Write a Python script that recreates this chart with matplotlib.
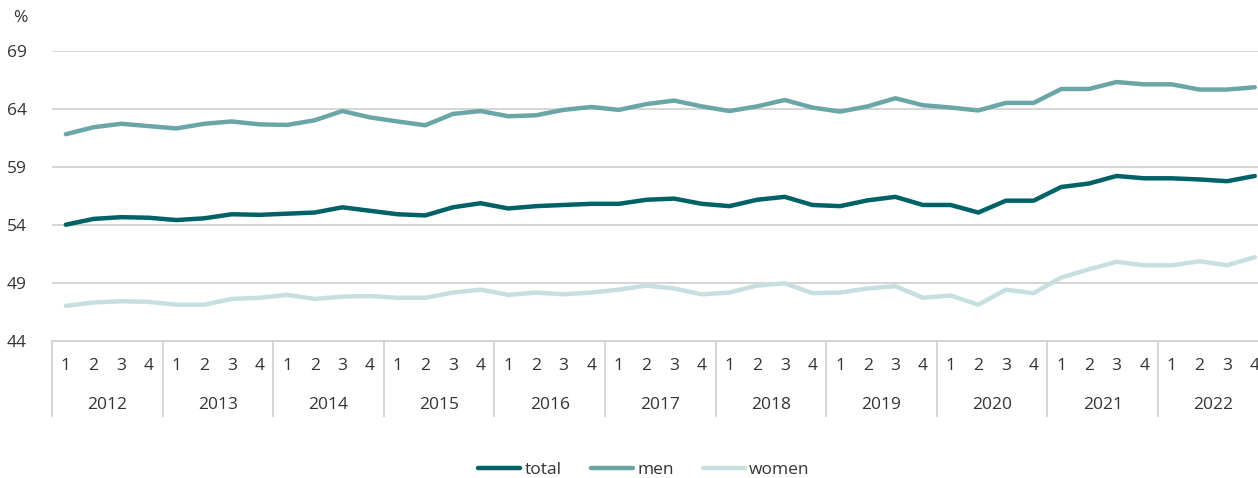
import matplotlib
matplotlib.use('Agg')
import matplotlib.pyplot as plt

# quarterly values 2012 Q1 .. 2022 Q4, in %
total = [54.0, 54.5, 54.65, 54.6, 54.4, 54.55, 54.9, 54.85, 54.95, 55.05, 55.5, 55.2,
         54.9, 54.8, 55.5, 55.85, 55.4, 55.6, 55.7, 55.8, 55.8, 56.15, 56.25, 55.8,
         55.6, 56.15, 56.4, 55.7, 55.6, 56.1, 56.4, 55.7, 55.7, 55.05, 56.07, 56.07,
         57.25, 57.55, 58.2, 58.0, 58.0, 57.9, 57.75, 58.2]
men = [61.8, 62.4, 62.7, 62.5, 62.3, 62.7, 62.9, 62.65, 62.6, 63.0, 63.8, 63.25,
       62.9, 62.57, 63.55, 63.8, 63.35, 63.43, 63.9, 64.15, 63.9, 64.4, 64.7, 64.2,
       63.8, 64.2, 64.75, 64.1, 63.75, 64.2, 64.9, 64.3, 64.1, 63.85, 64.5, 64.5,
       65.7, 65.7, 66.3, 66.1, 66.1, 65.65, 65.65, 65.85]
women = [47.0, 47.3, 47.4, 47.35, 47.1, 47.1, 47.6, 47.7, 47.95, 47.6, 47.8, 47.85,
         47.7, 47.7, 48.15, 48.4, 47.95, 48.15, 48.0, 48.15, 48.4, 48.75, 48.5, 48.0,
         48.15, 48.75, 48.95, 48.1, 48.15, 48.5, 48.7, 47.7, 47.9, 47.1, 48.4, 48.1,
         49.45, 50.15, 50.8, 50.5, 50.5, 50.85, 50.5, 51.2]
years = ['2012', '2013', '2014', '2015', '2016', '2017', '2018', '2019', '2020', '2021', '2022']
quarters = ['1', '2', '3', '4']
yticks = [44, 49, 54, 59, 64, 69]

c_total = '#006266'
c_men = '#6aa5a8'
c_women = '#c8dfe1'
c_grid = '#d2d2d2'
c_text = '#333333'

plt.rcParams['font.family'] = ['Open Sans', 'DejaVu Sans']
fs = 12.5

W, H = 1258, 478
fig = plt.figure(figsize=(W / 100, H / 100), dpi=100)
# plot area in pixels: left 52, top 50.7 (69), bottom 340.7 (44); 44 quarters of 27.65 px
left, top, bottom = 52, 50.7, 340.7
qw = 27.65
ax = fig.add_axes([left / W, 1 - bottom / H, 44 * qw / W, (bottom - top) / H])

x = list(range(len(total)))
ax.plot(x, total, color=c_total, lw=3.2, label='total', solid_capstyle='round', zorder=3)
ax.plot(x, men, color=c_men, lw=3.2, label='men', solid_capstyle='round', zorder=3)
ax.plot(x, women, color=c_women, lw=3.2, label='women', solid_capstyle='round', zorder=3)

ax.set_xlim(-0.5, len(total) - 0.5)
ax.set_ylim(44, 69)
ax.set_yticks(yticks)
ax.set_yticklabels([str(v) for v in yticks], fontsize=fs, color=c_text)
ax.yaxis.grid(True, color=c_grid, lw=1.3)
ax.set_axisbelow(True)
ax.tick_params(axis='y', length=0, pad=18)
ax.set_xticks([])
for s in ['top', 'right', 'left']:
    ax.spines[s].set_visible(False)
ax.spines['bottom'].set_color(c_grid)
ax.spines['bottom'].set_linewidth(1.3)

# category axis: quarters, years and separators
trans = ax.get_xaxis_transform()
ph = bottom - top
for i in x:
    ax.text(i, -(366 - bottom) / ph, quarters[i % 4], transform=trans, ha='center', va='center',
            fontsize=fs, color=c_text)
for j, yr in enumerate(years):
    ax.text(j * 4 + 1.5, -(405 - bottom) / ph, yr, transform=trans, ha='center', va='center',
            fontsize=fs, color=c_text)
sep = [j * 4 - 0.5 for j in range(len(years) + 1)]
ax.vlines(sep, 0, -(417 - bottom) / ph, transform=trans, color=c_grid, lw=1.3, clip_on=False)

fig.text(13 / W, 1 - 18 / H, '%', fontsize=fs, color=c_text, ha='left', va='center')

fig.legend(loc='center', bbox_to_anchor=(644 / W, 1 - 470 / H), ncol=3, frameon=False,
           fontsize=fs, handlelength=2.4, handletextpad=0.25, columnspacing=1.7,
           labelcolor=c_text)

fig.savefig('out.png', dpi=100)
